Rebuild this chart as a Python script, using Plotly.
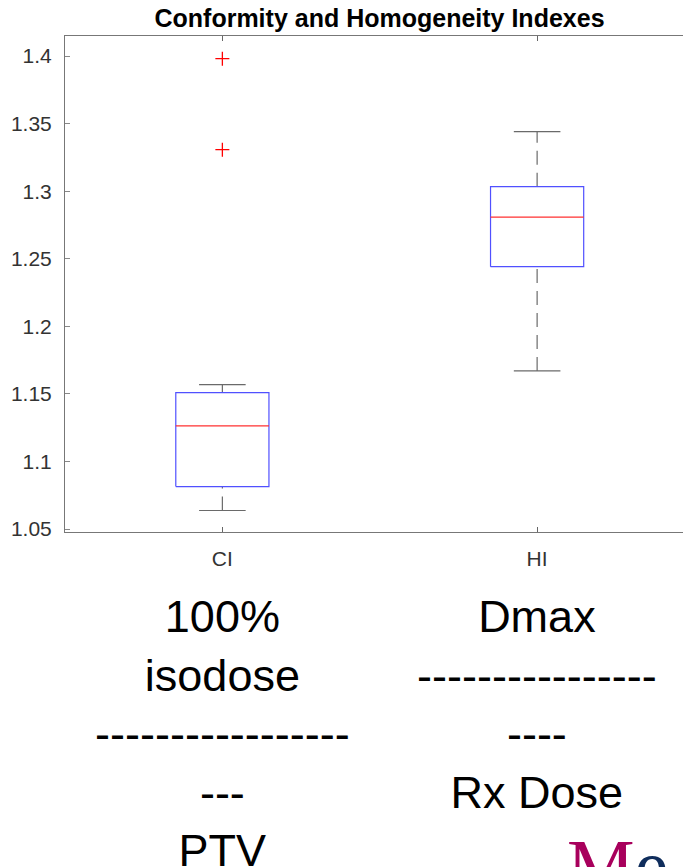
import plotly.graph_objects as go

# ---- data ----
categories = ["CI", "HI"]
positions = [1, 2]
lower_whisker = [1.0637, 1.1670]
q1 = [1.0814, 1.2441]
median = [1.1263, 1.2808]
q3 = [1.1509, 1.3033]
upper_whisker = [1.1569, 1.3440]
outlier_x = [1, 1]
outlier_y = [1.3980, 1.3307]

y_ticks = [1.05, 1.1, 1.15, 1.2, 1.25, 1.3, 1.35, 1.4]
y_ticklabels = ["1.05", "1.1", "1.15", "1.2", "1.25", "1.3", "1.35", "1.4"]

left_caption = "100%<br>isodose<br>-----------------<br>---<br>PTV"
right_caption = "Dmax<br>----------------<br>----<br>Rx Dose"

BOX_HALF = 0.148
CAP_HALF = 0.074
W, H = 683, 867

fig = go.Figure()

for p, lw, a, m, b, uw in zip(positions, lower_whisker, q1, median, q3, upper_whisker):
    # whiskers (dashed)
    fig.add_trace(go.Scatter(x=[p, p], y=[lw, a], mode="lines",
                             line=dict(color="#6a6a6a", width=1.2, dash="14px,8px"),
                             hoverinfo="skip", showlegend=False))
    fig.add_trace(go.Scatter(x=[p, p], y=[b, uw], mode="lines",
                             line=dict(color="#6a6a6a", width=1.2, dash="14px,8px"),
                             hoverinfo="skip", showlegend=False))
    # caps
    for v in (lw, uw):
        fig.add_trace(go.Scatter(x=[p - CAP_HALF, p + CAP_HALF], y=[v, v], mode="lines",
                                 line=dict(color="#6a6a6a", width=1.2),
                                 hoverinfo="skip", showlegend=False))
    # box
    fig.add_trace(go.Scatter(x=[p - BOX_HALF, p + BOX_HALF, p + BOX_HALF, p - BOX_HALF, p - BOX_HALF],
                             y=[a, a, b, b, a], mode="lines",
                             line=dict(color="#5050ff", width=1.2),
                             hoverinfo="skip", showlegend=False))
    # median
    fig.add_trace(go.Scatter(x=[p - BOX_HALF, p + BOX_HALF], y=[m, m], mode="lines",
                             line=dict(color="#ff3030", width=1.2),
                             hoverinfo="skip", showlegend=False))

fig.add_trace(go.Scatter(x=outlier_x, y=outlier_y, mode="markers",
                         marker=dict(symbol="cross-thin", size=10,
                                     line=dict(color="#ff0000", width=1.3)),
                         hoverinfo="skip", showlegend=False))

plot_left = 64.5
plot_top = 36
plot_bottom = 532.3
plot_h = plot_bottom - plot_top


def py(px):
    """pixel row -> paper fraction of the plot area"""
    return (plot_bottom - px) / plot_h


fig.update_layout(
    width=W, height=H,
    margin=dict(l=plot_left, r=0, t=plot_top, b=H - plot_bottom, pad=0),
    paper_bgcolor="white", plot_bgcolor="white",
    font=dict(family="Liberation Sans, Arial, sans-serif", color="#333333"),
    title=dict(text="<b>Conformity and Homogeneity Indexes</b>",
               x=(plot_left + 694.5) / 2 / W, xanchor="center",
               y=1 - 18 / H, yanchor="middle",
               font=dict(size=25, color="#000000",
                         family="Liberation Sans, Arial, sans-serif")),
    xaxis=dict(range=[0.5, 2.4635], tickvals=positions, ticktext=categories,
               ticks="inside", ticklen=5, tickcolor="#666666", tickwidth=1,
               showline=True, linecolor="#777777", linewidth=1, mirror="ticks",
               showgrid=False, zeroline=False,
               tickfont=dict(size=21, color="#333333"), ticklabelstandoff=8),
    yaxis=dict(range=[1.0478, 1.4148], tickvals=y_ticks, ticktext=y_ticklabels,
               ticks="inside", ticklen=5, tickcolor="#888888", tickwidth=1,
               showline=True, linecolor="#777777", linewidth=1, mirror=False,
               showgrid=False, zeroline=False,
               tickfont=dict(size=21, color="#333333"), ticklabelstandoff=8),
)

cap_font = dict(size=45, color="#000000", family="Liberation Sans, Arial, sans-serif")
fig.add_annotation(x=positions[0], xref="x", y=py(589), yref="paper",
                   text=left_caption, showarrow=False, xanchor="center", yanchor="top",
                   align="center", font=cap_font)
fig.add_annotation(x=positions[1], xref="x", y=py(589), yref="paper",
                   text=right_caption, showarrow=False, xanchor="center", yanchor="top",
                   align="center", font=cap_font)

# partially visible logo at bottom-right
fig.add_annotation(x=(565 - plot_left) / (W - plot_left), xref="paper", y=py(822), yref="paper",
                   text="<span style='color:#a8005c'>M</span><span style='color:#0f2d5c'>e</span>",
                   showarrow=False, xanchor="left", yanchor="top",
                   font=dict(size=76, family="Liberation Serif, Times New Roman, serif"))

fig.write_html("out.html", config={"displayModeBar": False},
               post_script="document.body.style.margin='0';")
